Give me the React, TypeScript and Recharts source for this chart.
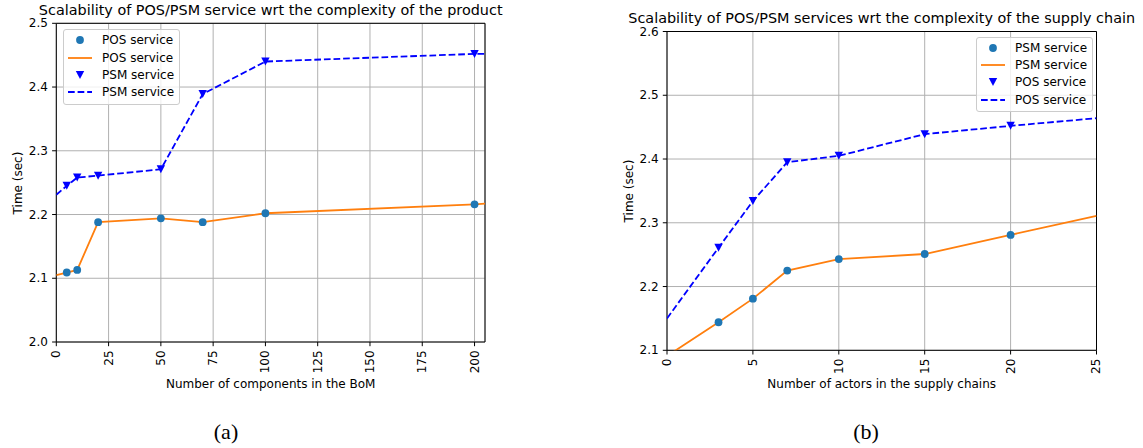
import React from "react";
import {
  ComposedChart,
  Line,
  Scatter,
  XAxis,
  YAxis,
  CartesianGrid,
  ReferenceArea,
  Legend,
} from "recharts";

// (a) time vs number of components in the BoM
const bomX = [5, 10, 20, 50, 70, 100, 200];
const bomPos = [2.109, 2.113, 2.188, 2.194, 2.188, 2.202, 2.216];
const bomPsm = [2.245, 2.258, 2.261, 2.271, 2.389, 2.44, 2.452];
// fitted lines run on to the frame
const bomLineX = [0, 5, 10, 20, 50, 70, 100, 200, 205];
const bomPosLine = [2.105, 2.109, 2.113, 2.188, 2.194, 2.188, 2.202, 2.216, 2.217];
const bomPsmLine = [2.231, 2.245, 2.258, 2.261, 2.271, 2.389, 2.44, 2.452, 2.452];
const bomXTicks = [0, 25, 50, 75, 100, 125, 150, 175, 200];
const bomYTicks = [2.0, 2.1, 2.2, 2.3, 2.4, 2.5];

// (b) time vs number of actors in the supply chain
const actorsX = [3, 5, 7, 10, 15, 20];
const actorsPsm = [2.144, 2.181, 2.225, 2.243, 2.251, 2.281];
const actorsPos = [2.261, 2.334, 2.395, 2.405, 2.439, 2.452];
const actorsLineX = [0, 3, 5, 7, 10, 15, 20, 25];
const actorsPsmLine = [2.091, 2.144, 2.181, 2.225, 2.243, 2.251, 2.281, 2.311];
const actorsPosLine = [2.15, 2.261, 2.334, 2.395, 2.405, 2.439, 2.452, 2.464];
const actorsXTicks = [0, 5, 10, 15, 20, 25];
const actorsYTicks = [2.1, 2.2, 2.3, 2.4, 2.5, 2.6];

const FONT = "'DejaVu Sans', sans-serif";
const DOT = "#1f77b4";
const ORANGE = "#ff7f0e";
const BLUE = "#0000ff";

const pts = (xs: number[], ys: number[]) => xs.map((x, i) => ({ x, y: ys[i] }));

const Dot = (p: any) => <circle cx={p.cx} cy={p.cy} r={3.9} fill={DOT} />;
const Tri = (p: any) => (
  <path
    d={`M${p.cx - 4.2},${p.cy - 4} L${p.cx + 4.2},${p.cy - 4} L${p.cx},${p.cy + 4} Z`}
    fill={BLUE}
  />
);

const XTick = (p: any) => (
  <text
    x={p.x}
    y={p.y}
    transform={`rotate(-90 ${p.x} ${p.y})`}
    textAnchor="end"
    dominantBaseline="central"
    fontSize={12}
    fontFamily={FONT}
    fill="#000"
  >
    {p.payload.value}
  </text>
);

const YTick = (p: any) => (
  <text
    x={p.x}
    y={p.y}
    textAnchor="end"
    dominantBaseline="central"
    fontSize={12}
    fontFamily={FONT}
    fill="#000"
  >
    {Number(p.payload.value).toFixed(1)}
  </text>
);

type Item = { name: string; kind: "dot" | "line" | "tri" | "dash" };

const LegendBox = ({ items }: { items: Item[] }) => (
  <div
    style={{
      background: "rgba(255,255,255,0.8)",
      border: "1px solid #cccccc",
      borderRadius: 3,
      padding: "1.5px 4.8px 3px 4.8px",
      fontFamily: FONT,
      fontSize: 12,
      color: "#000",
      boxSizing: "border-box",
    }}
  >
    {items.map((it, i) => (
      <div key={i} style={{ display: "flex", alignItems: "center", height: 17.3 }}>
        <svg width={24} height={14} style={{ marginRight: 9.6 }}>
          {it.kind === "dot" && <circle cx={12} cy={7} r={3.9} fill={DOT} />}
          {it.kind === "tri" && <path d="M7.8,3 L16.2,3 L12,11 Z" fill={BLUE} />}
          {it.kind === "line" && <line x1={0} x2={24} y1={7} y2={7} stroke={ORANGE} strokeWidth={1.8} />}
          {it.kind === "dash" && (
            <line x1={0} x2={24} y1={7} y2={7} stroke={BLUE} strokeWidth={1.8} strokeDasharray="6.7 2.9" />
          )}
        </svg>
        <span style={{ whiteSpace: "nowrap" }}>{it.name}</span>
      </div>
    ))}
  </div>
);

type PanelProps = {
  left: number;
  width: number;
  margin: { top: number; right: number; bottom: number; left: number };
  xDomain: [number, number];
  yDomain: [number, number];
  xTicks: number[];
  yTicks: number[];
  dots: { x: number; y: number }[];
  dotLine: { x: number; y: number }[];
  tris: { x: number; y: number }[];
  triLine: { x: number; y: number }[];
  items: Item[];
  legendPos: { left: number; top: number };
};

const Panel = (p: PanelProps) => (
  <div style={{ position: "absolute", left: p.left, top: 0 }}>
    <ComposedChart width={p.width} height={448} margin={p.margin}>
      <CartesianGrid stroke="#b0b0b0" strokeWidth={1} />
      <XAxis
        dataKey="x"
        type="number"
        domain={p.xDomain}
        allowDataOverflow
        ticks={p.xTicks}
        interval={0}
        height={40}
        axisLine={false}
        tickLine={{ stroke: "#000", strokeWidth: 1 }}
        tickSize={4.2}
        tickMargin={4.2}
        tick={<XTick />}
      />
      <YAxis
        type="number"
        domain={p.yDomain}
        allowDataOverflow
        ticks={p.yTicks}
        interval={0}
        width={40}
        axisLine={false}
        tickLine={{ stroke: "#000", strokeWidth: 1 }}
        tickSize={4.2}
        tickMargin={4.2}
        tick={<YTick />}
      />
      <Scatter data={p.dots} dataKey="y" shape={Dot} isAnimationActive={false} />
      <Line
        data={p.dotLine}
        dataKey="y"
        stroke={ORANGE}
        strokeWidth={1.8}
        dot={false}
        activeDot={false}
        isAnimationActive={false}
      />
      <Scatter data={p.tris} dataKey="y" shape={Tri} isAnimationActive={false} />
      <Line
        data={p.triLine}
        dataKey="y"
        stroke={BLUE}
        strokeWidth={1.8}
        strokeDasharray="6.7 2.9"
        dot={false}
        activeDot={false}
        isAnimationActive={false}
      />
      <ReferenceArea
        x1={p.xDomain[0]}
        x2={p.xDomain[1]}
        y1={p.yDomain[0]}
        y2={p.yDomain[1]}
        fill="none"
        fillOpacity={0}
        stroke="#000"
        strokeWidth={1}
      />
      <Legend
        layout="horizontal"
        verticalAlign="middle"
        align="center"
        wrapperStyle={{ left: p.legendPos.left, top: p.legendPos.top, width: "auto", height: "auto" }}
        content={() => <LegendBox items={p.items} />}
      />
    </ComposedChart>
  </div>
);

const label = (text: string, cx: number, cy: number, size: number, rotate = false) => (
  <div
    style={{
      position: "absolute",
      left: cx,
      top: cy,
      transform: `translate(-50%, -50%)${rotate ? " rotate(-90deg)" : ""}`,
      fontFamily: FONT,
      fontSize: size,
      whiteSpace: "nowrap",
      color: "#000",
      lineHeight: 1,
    }}
  >
    {text}
  </div>
);

const caption = (text: string, cx: number) => (
  <div
    style={{
      position: "absolute",
      left: cx,
      top: 432,
      transform: "translate(-50%, -50%)",
      fontFamily: "'Liberation Serif', serif",
      fontSize: 22,
      lineHeight: 1,
      color: "#000",
    }}
  >
    {text}
  </div>
);

export default function App() {
  return (
    <div
      style={{
        position: "absolute",
        left: 0,
        top: 0,
        width: 1143,
        height: 448,
        background: "#fff",
        overflow: "hidden",
      }}
    >
      <Panel
        left={0}
        width={560}
        margin={{ top: 23.3, left: 16.3, right: 75, bottom: 66 }}
        xDomain={[0, 205]}
        yDomain={[2.0, 2.5]}
        xTicks={bomXTicks}
        yTicks={bomYTicks}
        dots={pts(bomX, bomPos)}
        dotLine={pts(bomLineX, bomPosLine)}
        tris={pts(bomX, bomPsm)}
        triLine={pts(bomLineX, bomPsmLine)}
        items={[
          { name: "POS service", kind: "dot" },
          { name: "POS service", kind: "line" },
          { name: "PSM service", kind: "tri" },
          { name: "PSM service", kind: "dash" },
        ]}
        legendPos={{ left: 62.7, top: 29.3 }}
      />
      <Panel
        left={580}
        width={563}
        margin={{ top: 31.5, left: 47, right: 46.5, bottom: 57.7 }}
        xDomain={[0, 25]}
        yDomain={[2.1, 2.6]}
        xTicks={actorsXTicks}
        yTicks={actorsYTicks}
        dots={pts(actorsX, actorsPsm)}
        dotLine={pts(actorsLineX, actorsPsmLine)}
        tris={pts(actorsX, actorsPos)}
        triLine={pts(actorsLineX, actorsPosLine)}
        items={[
          { name: "PSM service", kind: "dot" },
          { name: "PSM service", kind: "line" },
          { name: "POS service", kind: "tri" },
          { name: "POS service", kind: "dash" },
        ]}
        legendPos={{ left: 395.7, top: 36.7 }}
      />
      {label("Scalability of POS/PSM service wrt the complexity of the product", 270.7, 10.2, 14.4)}
      {label("Scalability of POS/PSM services wrt the complexity of the supply chain", 881.7, 17.8, 14.4)}
      {label("Time (sec)", 18.3, 182.7, 12, true)}
      {label("Time (sec)", 629, 191, 12, true)}
      {label("Number of components in the BoM", 270.7, 383.5, 12)}
      {label("Number of actors in the supply chains", 881.7, 383.5, 12)}
      {caption("(a)", 226)}
      {caption("(b)", 866)}
    </div>
  );
}
